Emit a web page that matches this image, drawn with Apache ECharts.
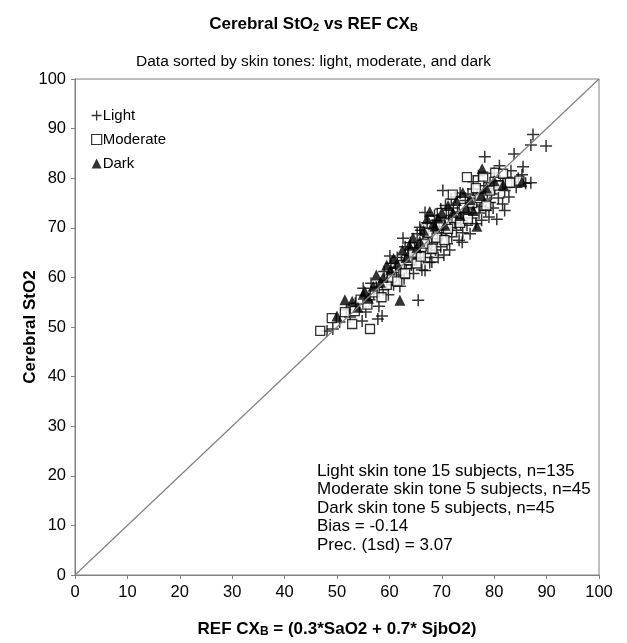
<!DOCTYPE html>
<html>
<head>
<meta charset="utf-8">
<script src="https://cdn.jsdelivr.net/npm/echarts@6/dist/echarts.min.js"></script>
<style>
  html, body { margin: 0; padding: 0; background: #fff; }
  #chart { width: 627px; height: 643px; }
</style>
</head>
<body>
<div id="chart"></div>
<script>
// 浅色肤色 (REF CXB, Cerebral StO2)
const lightData = [
  [48.1, 49.2], [49.2, 49.6], [50.5, 51.0], [51.8, 53.5], [52.5, 52.0], [53.5, 54.8], [54.8, 51.2], [55.5, 53.0],
  [56.2, 55.5], [57.0, 56.8], [57.8, 51.6], [58.6, 52.2], [58.0, 54.2], [58.8, 57.5], [59.5, 59.0], [60.1, 64.3],
  [60.5, 61.0], [60.8, 58.5], [61.2, 62.0], [61.8, 60.5], [62.3, 63.2], [62.6, 67.9], [62.8, 59.8], [63.2, 61.8],
  [63.5, 64.5], [63.9, 65.7], [64.2, 62.5], [64.6, 60.8], [65.0, 63.8], [65.5, 55.4], [65.8, 70.1], [65.9, 65.2],
  [66.2, 61.5], [66.5, 64.0], [66.8, 73.1], [66.8, 61.4], [67.0, 66.5], [67.4, 68.2], [67.7, 63.0], [68.1, 63.1],
  [68.1, 67.0], [68.4, 69.5], [68.8, 65.5], [69.0, 71.5], [69.2, 67.8], [69.5, 70.2], [69.8, 66.2], [70.0, 68.5],
  [70.2, 77.5], [70.4, 64.5], [70.5, 71.8], [70.8, 69.0], [71.0, 66.8], [71.3, 72.5], [71.6, 70.0], [71.9, 68.2],
  [72.2, 74.0], [72.5, 71.0], [72.8, 69.5], [73.0, 73.2], [73.3, 67.5], [73.6, 70.8], [73.9, 67.1], [74.2, 72.8],
  [74.5, 75.5], [74.8, 70.5], [75.1, 73.8], [75.4, 68.8], [75.7, 72.0], [76.0, 79.3], [76.2, 74.6], [76.5, 70.8],
  [76.8, 76.5], [77.1, 73.0], [77.3, 74.3], [77.6, 71.5], [77.9, 75.8], [78.2, 84.3], [78.4, 73.5], [78.7, 77.2],
  [79.0, 72.2], [79.2, 75.1], [79.2, 79.1], [79.5, 76.8], [79.8, 74.0], [80.1, 78.0], [80.5, 71.7], [80.8, 76.0],
  [81.2, 79.5], [81.6, 74.8], [82.0, 77.5], [82.4, 80.2], [82.8, 76.2], [83.2, 81.5], [83.8, 84.9], [84.2, 78.2],
  [84.6, 80.0], [85.3, 80.7], [85.5, 82.3], [86.0, 79.0], [87.0, 79.1], [87.0, 86.7], [87.4, 88.8], [89.9, 86.5],
  [55.0, 57.8], [56.5, 58.8], [57.5, 58.0], [59.0, 61.2], [59.8, 56.5], [60.3, 62.8], [61.5, 64.0], [62.0, 58.2],
  [63.0, 66.2], [64.0, 67.0], [64.8, 66.0], [65.3, 68.8], [66.0, 69.5], [67.2, 71.0], [68.6, 72.5], [69.8, 73.8],
  [70.7, 74.5], [71.8, 75.8], [72.6, 76.2], [73.5, 77.0], [74.0, 69.0], [75.0, 76.8], [76.0, 77.8], [77.0, 80.5],
  [78.0, 78.5], [80.0, 81.0], [81.0, 82.5], [82.0, 73.5], [66.4, 67.5], [67.9, 64.8], [69.3, 64.0], [71.5, 65.5]
]
// 中等肤色
const moderateData = [
  [46.8, 49.2], [49.0, 51.8], [51.5, 53.0], [52.9, 50.6], [53.4, 53.2], [54.5, 55.5], [56.3, 49.6], [55.8, 54.5],
  [57.2, 57.0], [58.5, 56.0], [59.5, 58.5], [60.5, 60.0], [61.5, 59.2], [62.0, 62.5], [63.0, 60.8], [63.8, 63.5],
  [64.5, 65.0], [65.2, 62.8], [66.0, 64.2], [66.8, 66.8], [67.5, 69.0], [68.2, 65.8], [69.0, 68.0], [69.8, 70.5],
  [70.5, 67.5], [71.2, 69.8], [72.1, 76.7], [72.8, 72.0], [73.5, 71.0], [74.2, 74.0], [75.0, 71.8], [75.8, 75.0],
  [76.5, 78.0], [77.2, 76.0], [77.9, 80.3], [78.5, 74.5], [79.2, 77.5], [80.2, 81.1], [80.8, 78.5], [81.7, 80.9],
  [82.5, 79.0], [83.0, 79.1], [84.8, 79.5], [74.8, 80.2], [70.0, 73.0]
]
// 深色肤色
const darkData = [
  [50.0, 52.2], [51.5, 55.5], [52.9, 55.2], [54.0, 54.0], [55.0, 56.6], [55.3, 57.2], [56.0, 55.8], [56.9, 58.2],
  [57.5, 60.5], [58.3, 59.0], [58.8, 60.0], [59.5, 62.5], [60.2, 61.5], [60.8, 63.8], [61.5, 62.8], [62.0, 55.4],
  [62.5, 65.5], [63.2, 64.0], [63.8, 66.5], [64.5, 68.0], [65.2, 66.0], [65.8, 67.3], [66.5, 69.5], [67.2, 71.8],
  [67.7, 73.3], [68.3, 70.7], [68.7, 70.3], [69.3, 72.0], [70.0, 73.1], [70.6, 70.5], [71.2, 74.5], [72.1, 73.1],
  [72.8, 75.5], [73.5, 72.5], [74.0, 77.1], [74.6, 74.0], [75.4, 75.7], [76.0, 73.5], [76.7, 70.3], [77.5, 76.5],
  [77.7, 81.9], [78.5, 78.0], [80.0, 79.5], [81.7, 78.7], [85.3, 79.3]
]
// 参考线 y = x
const identityLine = [[0, 0], [100, 100]]

const statLines = [
  'Light skin tone 15 subjects, n=135',
  'Moderate skin tone 5 subjects, n=45',
  'Dark skin tone 5 subjects, n=45',
  'Bias = -0.14',
  'Prec. (1sd) = 3.07'
]

const font = 'Arial, "Liberation Sans", sans-serif'
const plusPath = 'path://M0,5 L10,5 M5,0 L5,10'

const myChart = echarts.init(document.getElementById('chart'))

const option = {
  animation: false,
  textStyle: { fontFamily: font, color: '#000' },
  title: [
    {
      text: '{t|Cerebral StO}{s|2}{t| vs REF CX}{s|B}',
      left: 'center',
      top: 11,
      textStyle: {
        rich: {
          t: { fontFamily: font, fontSize: 17, fontWeight: 'bold', color: '#000' },
          s: { fontFamily: font, fontSize: 11, fontWeight: 'bold', color: '#000', verticalAlign: 'bottom', padding: [4, 0, 0, 0] }
        }
      }
    },
    {
      text: 'Data sorted by skin tones: light, moderate, and dark',
      left: 'center',
      top: 49,
      textStyle: { fontFamily: font, fontSize: 15.5, fontWeight: 'normal', color: '#000' }
    }
  ],
  legend: {
    orient: 'vertical',
    left: 86,
    top: 103,
    itemGap: 9,
    itemWidth: 10,
    itemHeight: 10,
    textStyle: { fontFamily: font, fontSize: 15, color: '#000', padding: [0, 0, 0, -4] },
    data: [
      { name: 'Light', icon: plusPath, itemStyle: { color: '#000', borderColor: '#000', borderWidth: 1.3 } },
      { name: 'Moderate', icon: 'rect', itemStyle: { color: '#fff', borderColor: '#000', borderWidth: 1.2 } },
      { name: 'Dark', icon: 'triangle', itemStyle: { color: '#000' } }
    ]
  },
  grid: {
    left: 75,
    right: 28,
    top: 79,
    bottom: 66,
    show: true,
    borderColor: '#808080',
    borderWidth: 1
  },
  xAxis: {
    type: 'value',
    min: 0,
    max: 100,
    interval: 10,
    name: '{b|REF CX}{s|B}{b| = (0.3*SaO2 + 0.7* SjbO2)}',
    nameLocation: 'middle',
    nameGap: 46,
    nameTextStyle: {
      rich: {
        b: { fontFamily: font, fontSize: 17, fontWeight: 'bold', color: '#000' },
        s: { fontFamily: font, fontSize: 12, fontWeight: 'bold', color: '#000', verticalAlign: 'bottom', padding: [3, 0, 0, 0] }
      }
    },
    axisLine: { lineStyle: { color: '#808080' } },
    axisTick: { inside: false, length: 4, lineStyle: { color: '#808080' } },
    axisLabel: { fontFamily: font, fontSize: 16.5, color: '#000', margin: 9 },
    splitLine: { show: false }
  },
  yAxis: {
    type: 'value',
    min: 0,
    max: 100,
    interval: 10,
    name: 'Cerebral StO2',
    nameLocation: 'middle',
    nameGap: 36,
    nameMoveOverlap: false,
    nameTextStyle: { fontFamily: font, fontSize: 17, fontWeight: 'bold', color: '#000' },
    axisLine: { show: true, lineStyle: { color: '#808080' } },
    axisTick: { show: true, inside: false, length: 4, lineStyle: { color: '#808080' } },
    axisLabel: { fontFamily: font, fontSize: 16.5, color: '#000', margin: 9 },
    splitLine: { show: false }
  },
  graphic: [
    {
      type: 'text',
      left: 317,
      top: 462,
      style: {
        text: statLines.join('\n'),
        font: '17px ' + font,
        lineHeight: 18.5,
        fill: '#000'
      }
    }
  ],
  series: [
    {
      name: 'identity',
      type: 'line',
      data: identityLine,
      symbol: 'none',
      lineStyle: { color: '#808080', width: 1.2 },
      silent: true
    },
    {
      name: 'Light',
      type: 'scatter',
      data: lightData,
      symbol: plusPath,
      symbolSize: 12,
      itemStyle: { color: '#000', borderColor: '#000', borderWidth: 1.5 }
    },
    {
      name: 'Moderate',
      type: 'scatter',
      data: moderateData,
      symbol: 'rect',
      symbolSize: 9,
      itemStyle: { color: '#fff', borderColor: '#000', borderWidth: 1.3 }
    },
    {
      name: 'Dark',
      type: 'scatter',
      data: darkData,
      symbol: 'triangle',
      symbolSize: 11,
      itemStyle: { color: '#000' }
    }
  ]
}

// 绘制图表
myChart.setOption(option)
</script>
</body>
</html>
